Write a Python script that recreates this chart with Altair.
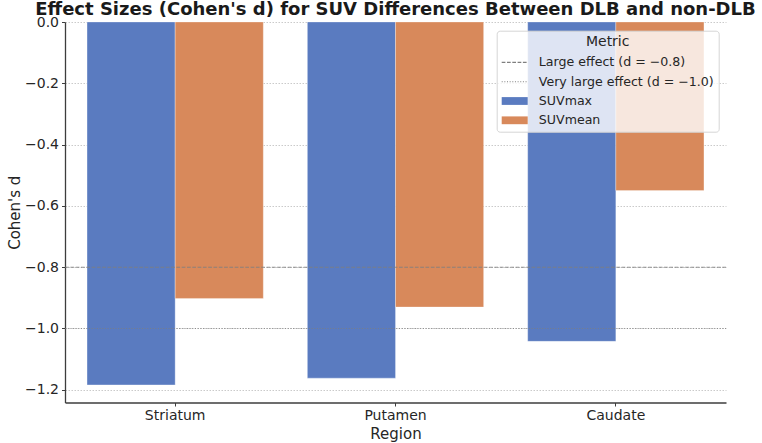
import json
import altair as alt
import pandas as pd

# ---- data ----
regions = ["Striatum", "Putamen", "Caudate"]
metrics = ["SUVmax", "SUVmean"]
suvmax_d = [-1.184, -1.162, -1.042]
suvmean_d = [-0.902, -0.930, -0.550]
ref_labels = ["Large effect (d = \u22120.8)", "Very large effect (d = \u22121.0)"]
ref_values = [-0.8, -1.0]
y_ticks = [0.0, -0.2, -0.4, -0.6, -0.8, -1.0, -1.2]

bar_colors = ["#5a7bc0", "#d8895b"]
ref_color = "#7f7f7f"

rows = []
for i, r in enumerate(regions):
    rows.append({"Region": r, "Metric": metrics[0], "d": suvmax_d[i]})
    rows.append({"Region": r, "Metric": metrics[1], "d": suvmean_d[i]})
bars_df = pd.DataFrame(rows)
ref_df = pd.DataFrame({"label": ref_labels, "value": ref_values})

legend_domain = ref_labels + metrics
legend_range = [ref_color, ref_color] + bar_colors

is_bar = f"indexof({json.dumps(metrics)}, datum.value) >= 0"
sym_type = f"{is_bar} ? 'M-2,-0.6H2V0.6H-2Z' : 'M-2,0H2'"
sym_dash = (f"datum.value == {json.dumps(ref_labels[0], ensure_ascii=False)} ? [3.7,1.6] : "
            f"(datum.value == {json.dumps(ref_labels[1], ensure_ascii=False)} ? [1,1.65] : [1,0])")
sym_stroke = f"{is_bar} ? 'transparent' : '{ref_color}'"

y_scale = alt.Scale(domain=[-1.2415, 0], nice=False, zero=False)

bars = alt.Chart(bars_df).mark_bar(stroke="white", strokeWidth=0.6, strokeOpacity=0.5).encode(
    x=alt.X("Region:N", sort=regions, title="Region",
            scale=alt.Scale(paddingInner=0.2, paddingOuter=0.1),
            axis=alt.Axis(labelAngle=0, grid=False, tickSize=3.5, labelPadding=2,
                          titlePadding=4)),
    xOffset=alt.XOffset("Metric:N", sort=metrics,
                        scale=alt.Scale(paddingInner=0, paddingOuter=0)),
    y=alt.Y("d:Q", title="Cohen's d", scale=y_scale,
            axis=alt.Axis(values=y_ticks, format=".1f", tickSize=3.5, labelPadding=3,
                          titlePadding=2, grid=True, gridDash=[1.5, 1.5],
                          gridColor="#c4c4c4", gridWidth=0.9)),
    color=alt.Color("Metric:N", title="Metric",
                    scale=alt.Scale(domain=legend_domain, range=legend_range),
                    legend=alt.Legend(
                        orient="none", legendX=431.7, legendY=8.7,
                        titleAnchor="middle", titleFontSize=14, titleFontWeight="normal",
                        titleColor="#262626", titlePadding=6.2,
                        labelFontSize=12.6, labelColor="#262626", labelOffset=16.6,
                        labelLimit=400,
                        symbolSize=169, symbolOffset=6.5,
                        symbolType=alt.ExprRef(sym_type),
                        symbolDash=alt.ExprRef(sym_dash),
                        symbolStrokeColor=alt.ExprRef(sym_stroke),
                        symbolStrokeWidth=1.1,
                        rowPadding=4.3, padding=4,
                        fillColor="rgba(255,255,255,0.8)", strokeColor="#d6d6d6",
                        cornerRadius=3, zindex=1)),
)

rules = alt.Chart(ref_df).mark_rule(color=ref_color, strokeWidth=1.1, opacity=0.85).encode(
    y=alt.Y("value:Q", scale=y_scale),
    strokeDash=alt.StrokeDash("label:N",
                              scale=alt.Scale(domain=ref_labels, range=[[3.7, 1.6], [1, 1.65]]),
                              legend=None),
)

chart = alt.layer(bars, rules).properties(
    width=661, height=380.5,
    autosize="none",
    padding={"left": 65, "top": 22, "right": 36, "bottom": 40},
    title=alt.TitleParams(
        "Effect Sizes (Cohen's d) for SUV Differences Between DLB and non-DLB",
        fontSize=18, fontWeight="bold", anchor="middle", baseline="alphabetic",
        offset=-18, color="#1a1a1a"),
).configure(font="DejaVu Sans").configure_axis(
    labelFontSize=14, titleFontSize=15, titleFontWeight="normal",
    labelColor="#262626", titleColor="#262626",
    domainColor="#3d3d3d", domainWidth=1.3, tickColor="#3d3d3d", tickWidth=1,
).configure_view(stroke=None)

chart.save("out.html", embed_options={"renderer": "svg", "actions": False})
